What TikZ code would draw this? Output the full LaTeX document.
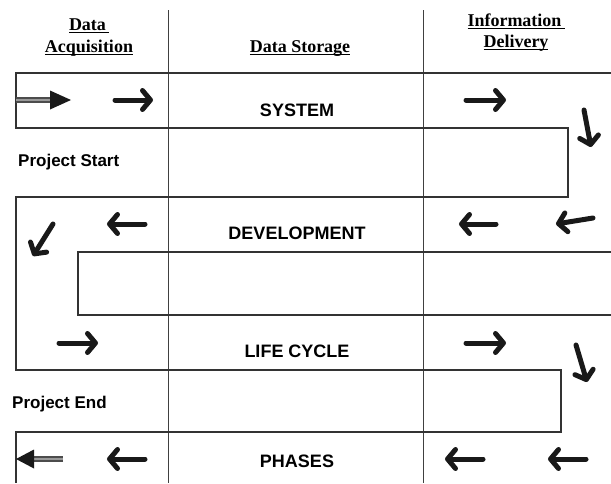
\documentclass[tikz,border=0pt]{standalone}
\usepackage{fontspec}
\setmainfont{Liberation Serif}
\setsansfont{Liberation Sans}
\usetikzlibrary{arrows.meta,positioning}
\newcommand{\hdrul}[1]{\setbox0\hbox{#1}\rlap{\rule[-2.6pt]{\wd0}{1.1pt}}\box0}

\begin{document}
\begin{tikzpicture}[x=1pt,y=-1pt,
    band/.style={draw=black!80,line width=1.6pt,line join=miter},
    colrule/.style={draw=black!75,line width=1pt},
    hdr/.style={font=\fontsize{18}{18}\selectfont\bfseries\rmfamily,anchor=base,inner sep=0pt},
    lbl/.style={font=\fontsize{18}{18}\selectfont\bfseries\sffamily,inner sep=0pt},
    plbl/.style={font=\fontsize{17}{17}\selectfont\bfseries\sffamily,inner sep=0pt,anchor=base west},
    flow/.style={draw=black!90,line width=5pt,line cap=round,
      -{Straight Barb[length=8pt,width=19pt,line width=5pt,round]}},
    shaft/.style={draw=black!70,double=black!40,double distance=2.6pt,line width=1.4pt}]
 \useasboundingbox (0,0) rectangle (611,483);
 % column rules
 \draw[colrule] (168,10) -- (168,483);
 \draw[colrule] (423,10) -- (423,483);
 % the winding band
 \draw[band] (611,73) -| (16,128) -| (568,197) -| (16,370) -| (561,432) -| (16,483);
 \draw[band] (611,252) -| (78,315) -- (611,315);
 % headers
 \node[hdr] (acqa) at (89,30) {\hdrul{Data\,}};
 \node[hdr] (acqb) at (89,52) {\hdrul{Acquisition}};
 \node[hdr] (stor) at (300,52) {\hdrul{Data Storage}};
 \node[hdr] (infoa) at (516,26) {\hdrul{Information\,}};
 \node[hdr] (infob) at (516,47) {\hdrul{Delivery}};
 % row labels
 \node[lbl] (sys) at (297,110) {SYSTEM};
 \node[lbl] (dev) at (297,233) {DEVELOPMENT};
 \node[lbl] (life) at (297,351) {LIFE CYCLE};
 \node[lbl] (phas) at (297,461) {PHASES};
 \node[plbl] (pstart) at (18,166) {Project Start};
 \node[plbl] (pend) at (12,408) {Project End};
 % flow arrows
 \foreach \xa/\ya/\xb/\yb in {115/100/153/100, 466/100/506/100, 584/110/591/147,
   496/224/459/224, 593/218/556/224, 145/224/107/224, 53/224/33/256,
   59/343/98/343, 466/343/506/343, 576/345/587/382,
   586/459/548/459, 483/459/445/459, 145/459/107/459}
   \draw[flow] (\xa,\ya) -- (\xb,\yb);
 % start and end markers
 \draw[shaft] (16,100) -- (52,100);
 \fill[black!90] (50,90.5) -- (71,100) -- (50,109.5) -- cycle;
 \draw[shaft] (63,459) -- (32,459);
 \fill[black!90] (34,449.5) -- (16,459) -- (34,468.5) -- cycle;
\end{tikzpicture}
\end{document}
